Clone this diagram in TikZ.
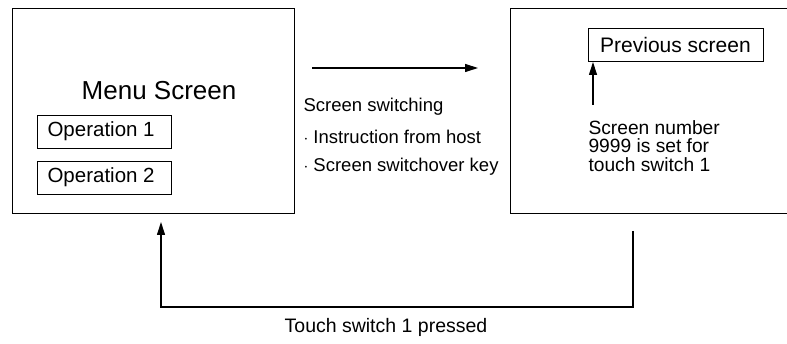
\documentclass[tikz,border=0pt]{standalone}
\usepackage{fontspec}
\setmainfont{Liberation Sans}
\usetikzlibrary{arrows.meta}
\begin{document}
\begin{tikzpicture}[x=1pt,y=-1pt,line width=1.1pt,
  scr/.style={draw,rectangle,inner sep=0pt,anchor=north west},
  opbox/.style={draw,rectangle,line width=1pt,inner sep=0pt,anchor=north west,font=\fontsize{20.5}{24}\selectfont},
  lbl/.style={inner sep=0pt,font=\fontsize{18.5}{22}\selectfont},
  arr/.style={-{Triangle[length=13pt,width=8pt]}}]
\useasboundingbox (0,0) rectangle (787,344);
\clip (0,0) rectangle (787,344);
% left screen
\node[scr,minimum width=282pt,minimum height=205pt] (menu) at (12,8) {};
\node[inner sep=0pt,font=\fontsize{26}{30}\selectfont] (mtitle) at (159,91) {Menu Screen};
\node[opbox,minimum width=134pt,minimum height=33pt] (op1) at (37,115) {};
\node[inner sep=0pt,anchor=west,font=\fontsize{20.5}{24}\selectfont] at (47,131.5) {Operation 1};
\node[opbox,minimum width=134pt,minimum height=33pt] (op2) at (37,161) {};
\node[inner sep=0pt,anchor=west,font=\fontsize{20.5}{24}\selectfont] at (47,177.5) {Operation 2};
% right screen
\node[scr,minimum width=290pt,minimum height=205pt] (prev) at (510,8) {};
\node[opbox,minimum width=175pt,minimum height=33pt] (pbox) at (588,28) {};
\node[inner sep=0pt,font=\fontsize{21}{24}\selectfont] at (675.5,44.5) {Previous screen};
\node[lbl,anchor=north west,align=left,font=\fontsize{19.2}{18.5}\selectfont] (note) at (588,120) {Screen number\\9999 is set for\\touch switch 1};
\coordinate (ntop) at (593,105);
\draw[arr] (ntop) -- (593,62);
% top arrow
\coordinate (a1) at (312,68);
\coordinate (a2) at (478,68);
\draw[arr] (a1) -- (a2);
\node[lbl,anchor=west] (s1) at (303,107) {Screen switching};
\node[lbl,anchor=west] (s2) at (303,137) {$\cdot$\ Instruction from host};
\node[lbl,anchor=west] (s3) at (303,167) {$\cdot$\ Screen switchover key};
% bottom return
\coordinate (r1) at (633,231);
\coordinate (r2) at (633,307);
\coordinate (l1) at (161,307);
\coordinate (l2) at (161,222);
\draw[arr] (r1) -- (r2) -- (l1) -- (l2);
\node[inner sep=0pt,font=\fontsize{19.5}{22}\selectfont] (touch) at (386,327) {Touch switch 1 pressed};
\end{tikzpicture}
\end{document}
